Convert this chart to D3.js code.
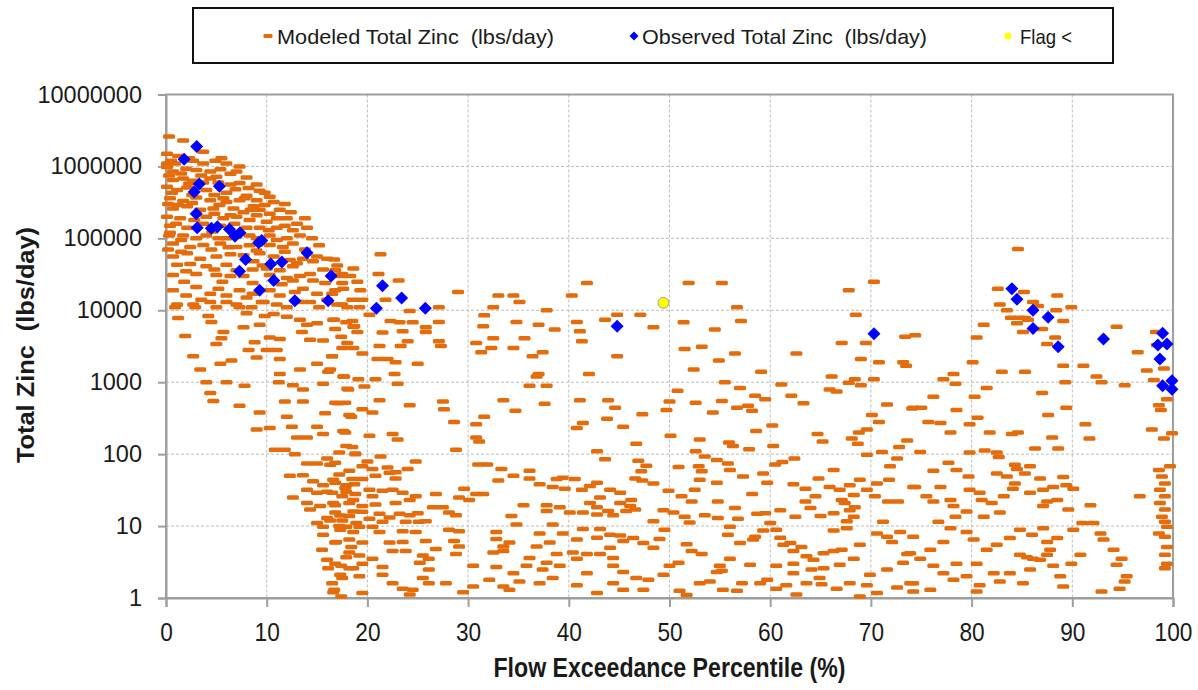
<!DOCTYPE html>
<html><head><meta charset="utf-8">
<script src="https://cdn.jsdelivr.net/npm/d3@7/dist/d3.min.js"></script>
<style>
html,body{margin:0;padding:0;background:#fff;}
svg{display:block;}
</style></head>
<body>
<svg id="chart" width="1198" height="690"></svg>
<script>
// ---------- DATA ----------
const xTicks = [0,10,20,30,40,50,60,70,80,90,100];
const yTicks = [1,10,100,1000,10000,100000,1000000,10000000];
const legendLabels = ["Modeled Total Zinc  (lbs/day)","Observed Total Zinc  (lbs/day)","Flag <"];
const xTitle = "Flow Exceedance Percentile (%)";
const yTitle = "Total Zinc  (lbs/day)";

// Modeled Total Zinc (lbs/day): [flow exceedance %, load]
const modeledHigh = [
[0.3,2.6e6],[1.7,2.3e6],[3.7,1.6e6],[0.1,1.5e6],[0.1,1.1e6],[0.9,1.1e6],[2.7,1.2e6],[3.7,1.1e6],[4.9,1.2e6],[6.0,1.1e6],
[0.1,9.8e5],[0.7,8.5e5],[2.0,9.3e5],[3.0,8.9e5],[4.4,8.5e5],[5.4,9.1e5],[6.4,7.9e5],[7.0,8.5e5],[0.7,6.5e5],[1.7,6.8e5],
[2.7,6.3e5],[4.4,6.8e5],[6.4,5.6e5],[7.3,5.9e5],[9.0,5.6e5],[0.1,5.2e5],[1.1,4.7e5],[2.1,5.1e5],[4.0,4.7e5],[6.0,4.3e5],
[6.9,4.8e5],[8.0,3.9e5],[9.3,4.6e5],[0.4,3.6e5],[1.7,3.3e5],[3.0,3.7e5],[4.4,3.4e5],[6.0,3.2e5],[7.3,3.4e5],[8.7,2.8e5],
[10.7,3.2e5],[0.7,2.6e5],[2.1,2.8e5],[3.4,2.5e5],[4.7,2.6e5],[6.7,2.6e5],[7.7,2.3e5],[9.3,2.5e5],[10.3,2.2e5],[11.3,2.5e5],
[0.1,2.0e5],[1.4,1.9e5],[4.0,2.0e5],[5.7,1.9e5],[7.0,2.0e5],[8.3,1.8e5],[10.0,1.7e5],[12.0,1.9e5],[13.0,1.6e5],[0.4,1.5e5],
[2.1,1.4e5],[3.7,1.6e5],[5.4,1.5e5],[8.0,1.4e5],[9.3,1.4e5],[11.0,1.4e5],[12.6,1.3e5],[0.4,1.2e5],[1.7,1.1e5],[4.0,1.1e5],
[6.0,1.0e5],[8.3,1.1e5],[10.3,1.1e5],[12.0,1.0e5],[13.3,1.1e5],[0.7,8.5e4],[2.4,7.6e4],[3.7,8.1e4],[5.4,8.5e4],[7.0,7.6e4],
[10.3,8.1e4],[11.6,7.6e4],[12.6,8.5e4],[0.7,5.6e4],[2.1,6.2e4],[3.4,5.2e4],[5.0,5.6e4],[6.4,6.0e4],[9.3,6.2e4],[10.7,5.6e4],
[12.3,5.0e4],[13.6,5.2e4],[15.0,5.6e4],[1.1,4.3e4],[2.4,4.4e4],[4.0,4.1e4],[6.0,4.3e4],[7.0,3.6e4],[10.0,3.8e4],[11.3,3.6e4],
[12.6,4.1e4],[14.3,3.2e4],[15.6,3.7e4],[0.7,3.1e4],[3.0,3.2e4],[5.0,3.1e4],[6.4,3.0e4],[7.7,3.0e4],[10.3,3.1e4],[12.0,2.8e4],
[13.3,3.0e4],[14.6,2.6e4],[16.6,3.1e4],[17.3,3.0e4],[18.3,3.0e4],[0.7,1.9e4],[3.0,2.1e4],[4.4,1.7e4],[6.0,1.6e4],[7.3,1.9e4],
[10.3,1.9e4],[13.6,2.0e4],[15.0,1.7e4],[17.6,2.0e4],[1.1,1.2e4],[2.7,1.2e4],[4.4,1.3e4],[6.0,1.3e4],[8.0,1.5e4],[9.7,1.3e4],
[12.0,1.1e4],[14.3,1.3e4],[16.0,1.4e4],[18.0,1.1e4]
];
const modeledBlob = [
[1.2,1.4e6],[2.3,1.3e6],[5.5,1.3e6],[0.5,1.2e6],[7.3,1.0e6],[1.5,8.0e5],[3.5,7.5e5],[5.0,7.2e5],[8.0,7.0e5],[0.3,7.5e5],
[2.3,5.8e5],[3.7,6.0e5],[5.2,6.0e5],[8.2,5.0e5],[9.8,4.3e5],[0.6,4.3e5],[2.6,4.0e5],[4.8,4.0e5],[5.7,3.6e5],[7.8,3.6e5],
[9.0,3.4e5],[10.3,3.8e5],[11.8,3.0e5],[1.2,2.9e5],[2.6,3.1e5],[5.3,2.9e5],[8.4,2.5e5],[9.8,2.9e5],[12.4,2.3e5],[13.8,1.9e5],
[2.8,1.8e5],[4.8,2.2e5],[6.4,2.1e5],[9.0,2.1e5],[11.0,1.9e5],[1.0,1.6e5],[4.6,1.25e5],[6.8,1.6e5],[10.2,1.3e5],[11.8,1.5e5],
[14.0,1.4e5],[3.0,1.0e5],[5.2,1.0e5],[7.2,1.2e5],[9.0,1.0e5],[11.0,9.5e4],[14.5,1.0e5],[1.5,9.5e4],[4.5,7.0e4],[6.2,7.5e4],
[8.3,8.0e4],[9.0,6.8e4],[11.8,6.5e4],[13.8,7.0e4],[15.2,8.0e4],[1.5,6.5e4],[7.7,5.8e4],[8.7,4.8e4],[13.0,4.5e4],[14.6,4.8e4],
[16.0,5.2e4],[17.0,4.2e4],[2.0,3.5e4],[4.8,3.7e4],[8.6,3.7e4],[9.6,4.2e4],[16.8,3.6e4],[18.6,3.8e4],[1.8,2.5e4],[5.6,2.5e4],
[8.6,2.4e4],[11.5,2.3e4],[12.6,2.6e4],[15.8,2.4e4],[19.0,2.5e4],[2.0,1.6e4],[5.2,2.0e4],[8.6,1.7e4],[11.3,1.6e4],[12.8,1.8e4],
[16.5,1.7e4],[19.3,1.9e4],[3.5,1.4e4],[7.0,1.2e4],[11.0,1.2e4],[13.2,1.3e4],[15.2,1.1e4],[17.0,1.2e4],[0.2,3.0e5],[0.2,7.0e4],
[0.3,1.1e5]
];
const modeledLow = [
[0.9,1.1e4],[2.9,1.1e4],[5.0,1.1e4],[7.3,1.1e4],[8.5,1.1e4],[9.5,1.3e4],
[1.2,7800],[4.2,8300],[4.5,6900],[7.7,5800],[8.0,9100],[9.3,6300],[9.8,8300],[10.7,8900],[12.0,8100],[13.3,7400],[14.0,6300],[15.0,6600],[16.6,7400],[17.9,6800],[18.6,5900],[19.0,5000],
[1.9,4400],[5.7,5000],[5.5,4100],[5.0,3400],[8.8,3600],[10.3,4200],[11.3,4000],[13.5,5000],[14.3,3900],[15.6,3800],[17.4,4300],
[2.7,2300],[5.4,1800],[6.5,2000],[8.2,2800],[10.0,2800],[11.0,2800],[9.0,2200],[11.3,2100],[13.3,1500],[15.0,1800],[16.1,1400],[17.6,1200],[16.5,2300],[18.6,3000],
[3.4,1500],[4.0,1000],[6.0,1000],[7.8,890],[11.3,1300],[11.2,1000],[12.6,910],[13.6,790],[15.6,950],[18.1,790],[19.1,1100],
[4.4,710],[4.7,550],[7.3,470],[9.3,380],[9.0,220],[10.3,230],[11.8,540],[13.6,540],[12.0,330],[12.5,240],[15.0,240],[15.6,190],[13.0,170],[14.0,170],[15.8,370],[17.8,200],[18.4,330],[17.1,510],
[10.8,115],[11.8,115],[12.8,100],[14.0,74],[15.0,74],[16.3,71],[17.9,130],[18.8,100],[16.0,87],
[12.3,50],[13.6,51],[14.6,42],[15.6,37],[16.6,44],[17.9,37],[14.0,32],[15.0,29],[16.0,30],[17.9,30],[12.6,25],[14.0,21],[15.3,19],[16.6,21],[18.6,23],
[14.3,17],[16.0,13],[17.3,14],[18.6,16],[15.0,11],[16.3,12],[17.9,9.8],[18.9,11],[15.6,9.8],[17.3,8.9],[18.6,8.3],
[15.6,7.6],[16.9,6.0],[15.5,4.7],[18.4,5.1],[16.0,3.4],[17.9,3.7],[16.1,2.6],[17.4,2.8],[16.5,1.6],[17.3,2.1],[16.6,1.2],[17.4,1.05],[18.6,2.6]
];
const modeledMid = [
[21.3,6.0e4],[16.7,5.1e4],[17.5,3.2e4],[21.1,3.2e4],[23.1,2.6e4],[29.0,1.8e4],[33.0,1.6e4],[34.5,1.6e4],[35.1,1.3e4],[32.5,1.1e4],
[40.3,1.6e4],[41.8,2.4e4],[19.5,1.4e4],[18.5,1.4e4],[16.8,1.9e4],[17.5,2.4e4],[21.8,1.4e4],[19.2,1.1e4],[17.5,1.2e4],[27.1,1.1e4],
[24.2,9800],[37.8,1.0e4],[44.8,8700],[16.7,7400],[18.5,7100],[18.7,6000],[16.8,5500],[20.2,8700],[22.3,7100],[23.2,6800],
[24.5,6800],[25.8,5800],[25.8,5000],[27.1,6900],[21.5,4900],[23.5,5100],[24.0,3700],[23.3,3200],[21.2,3200],[27.1,3700],
[27.3,3200],[19.5,2500],[17.5,3000],[18.0,3500],[16.5,2300],[21.0,2100],[22.0,2100],[22.8,1900],[25.0,1800],[22.7,1300],
[23.0,950],[31.6,8500],[31.5,6000],[34.8,6900],[37.0,6300],[38.6,5400],[32.5,4100],[35.6,4100],[30.8,3500],[31.3,2600],
[32.3,3000],[34.5,3000],[36.4,2300],[37.4,2600],[37.0,1300],[36.8,1200],[40.8,6900],[41.1,5100],[41.3,3700],[43.6,7400],
[44.8,2300],[42.0,1300],[17.7,1200],[20.8,1100],[16.3,1500],[19.7,870],[18.0,810],[16.8,520],[17.8,520],[19.5,420],
[20.5,380],[21.2,560],[24.2,480],[27.5,540],[27.6,420],[28.6,280],[18.2,350],[20.2,180],[22.5,190],[23.0,160],
[17.6,210],[28.8,115],[30.8,260],[31.6,330],[30.8,170],[31.1,150],[33.5,560],[34.7,400],[36.1,890],[37.8,890],
[37.6,500],[40.8,230],[41.4,270],[41.1,560],[43.9,560],[44.6,440],[43.8,310],[45.4,240],[42.8,110],[43.6,85],
[17.2,105],[18.5,126],[18.8,102],[21.3,93],[20.0,79],[16.8,76],[18.2,59],[19.5,68],[20.5,62],[22.0,65],
[22.8,56],[24.0,62],[24.8,79],[17.2,52],[18.5,45],[18.7,38],[17.8,34],[16.8,40],[19.5,45],[20.8,50],
[22.2,55],[22.8,46],[16.5,29],[17.5,26],[18.8,28],[20.2,32],[21.5,31],[22.5,32],[23.5,29],[24.8,26],
[26.8,28],[16.8,19.5],[18.2,21],[19.5,19],[20.8,20],[22.8,21],[24.2,23],[20.5,26],[16.8,15.5],[18.2,13.8],
[19.5,15.8],[21.2,14.8],[22.2,13.2],[23.2,14.8],[24.2,14.1],[25.0,15.1],[26.5,18.2],[27.5,18.2],[28.1,15.5],[28.8,14.1],
[17.5,12],[20.2,12.6],[21.5,11.5],[23.8,11.5],[25.1,11.5],[25.8,11.7],[31.0,72],[31.9,72],[33.3,62],[34.5,50],
[36.1,59],[33.0,43],[36.1,46],[37.1,38],[38.8,45],[39.4,47],[40.6,45],[38.4,35],[39.6,33],[29.6,33],
[30.8,28],[29.1,25],[30.1,23],[31.5,28],[35.5,19.5],[37.8,19.5],[39.1,18.2],[40.1,15.5],[37.8,16.2],[41.3,32],
[42.1,36],[42.8,40],[43.1,25],[44.1,32],[45.1,29],[42.1,21],[42.8,18.2],[42.8,14.5],[43.9,16.2],[44.4,14.1],
[45.1,21],[45.7,16.2],[41.4,15.5],[34.3,13.8],
[17.2,10],[19.2,9.8],[20.5,9.8],[21.2,8.3],[23.5,8.5],[24.8,8.3],[28.1,8.9],[29.1,8.5],[32.8,8.3],[34.8,10.5],
[37.1,7.9],[38.4,10.5],[39.4,7.9],[41.4,9.1],[43.1,9.1],[44.1,7.6],[45.1,7.4],[16.8,5.9],[18.2,6.5],[19.5,5.9],
[22.2,5.9],[23.5,6.0],[25.8,6.2],[28.6,6.2],[29.1,5.2],[32.8,6.6],[33.5,5.2],[34.1,5.9],[36.8,5.2],[38.1,5.9],
[40.8,6.5],[42.8,6.9],[44.1,5.0],[45.4,6.2],[18.2,4.3],[19.2,3.9],[20.5,3.5],[22.5,4.5],[23.8,4.5],[25.5,3.9],
[26.1,3.5],[26.8,4.8],[28.8,4.1],[32.5,4.3],[33.5,4.5],[36.1,3.6],[37.8,3.1],[38.8,4.1],[40.4,4.3],[41.8,4.1],
[43.1,4.1],[44.4,3.6],[16.8,3.0],[18.2,2.6],[19.5,3.0],[21.5,2.7],[25.2,3.1],[26.1,2.5],[30.5,2.8],[32.8,2.7],
[34.5,2.2],[35.8,2.8],[37.4,2.5],[39.1,2.8],[40.8,3.5],[44.4,2.8],[45.4,2.3],[17.5,1.9],[19.2,2.0],[21.5,2.1],
[22.5,1.6],[23.5,1.35],[24.5,1.3],[25.5,1.9],[26.1,1.6],[27.8,1.6],[29.5,1.2],[30.5,1.45],[32.1,1.8],[33.5,1.45],
[34.1,1.3],[35.1,1.7],[37.1,1.6],[38.4,1.9],[40.8,1.5],[41.8,2.2],[42.8,1.17],[44.4,1.6],[45.4,1.3],[16.7,1.3],
[19.5,1.17],[24.2,1.12]
];
const modeledMidRight = [
[51.9,2.4e4],[55.2,2.4e4],[67.8,1.9e4],[70.3,2.5e4],[56.7,1.1e4],[47.1,8700],[48.4,5800],[51.4,6800],[54.5,5400],[57.1,7100],
[68.5,8700],[67.1,3500],[69.5,3500],[73.4,4300],[74.4,4500],[51.5,2900],[53.2,3100],[54.9,2000],[56.5,2500],[62.6,2500],
[52.4,1500],[59.1,1400],[69.0,2100],[70.8,1900],[73.2,1900],[73.5,1700],[66.1,1200],[65.9,790],[66.6,740],[67.8,980],
[68.4,1100],[69.0,910],[70.3,1100],[55.5,1000],[61.1,930],[50.8,760],[57.0,830],[58.5,650],[59.5,580],[62.1,650],
[63.3,510],[50.0,540],[49.7,410],[52.6,520],[55.2,550],[56.7,440],[57.8,470],[58.2,400],[54.3,380],[47.3,360],
[50.1,180],[53.0,160],[55.9,145],[56.3,130],[57.9,117],[58.6,210],[60.2,250],[60.3,130],[46.7,140],[64.7,190],
[65.2,150],[68.1,165],[68.8,200],[69.6,220],[68.7,140],[70.1,350],[70.8,280],[71.6,490],[74.1,430],[72.8,126],
[73.6,155],[71.1,107],[69.6,98],[46.9,81],[47.7,69],[47.2,58],[46.6,46],[47.3,43],[48.4,39],[50.9,66],
[52.6,110],[53.5,93],[52.9,68],[53.2,58],[54.7,83],[55.8,74],[56.0,60],[57.3,49],[54.7,40],[53.0,44],
[52.5,32],[59.3,54],[59.7,40],[60.5,72],[61.2,78],[62.4,87],[66.3,60],[64.8,46],[62.3,38],[63.5,33],
[65.9,35],[66.9,32],[67.9,37],[68.3,27],[68.9,44],[69.6,32],[70.6,39],[71.8,44],[71.9,68],[72.6,87],
[74.2,35],[49.9,31],[51.2,26],[52.2,22],[54.8,22],[58.2,28],[46.2,23],[46.1,19],[46.6,17],[48.4,11.7],
[49.4,16.6],[50.4,15.5],[51.5,13.5],[52.0,11.2],[53.5,14.1],[54.8,12.9],[56.5,17.8],[56.8,12.6],[58.7,14.8],[59.5,15.1],
[61.0,16.6],[62.5,13.5],[63.5,22],[64.0,17.8],[64.5,26],[65.0,13.8],[66.3,15.1],[67.1,23],[67.4,21],[67.9,16.6],
[68.4,18.2],[68.3,13.5],[67.6,11.7],[70.4,26],[71.2,11.5],[71.7,22],[72.7,22],
[46.4,6.8],[47.4,5.8],[48.4,5.0],[49.0,6.6],[49.5,8.9],[50.9,3.1],[51.7,5.6],[52.2,4.5],[53.2,4.1],[55.0,2.8],
[55.2,2.4],[56.0,3.5],[56.0,9.8],[55.8,7.6],[57.0,5.8],[58.0,2.9],[58.3,6.5],[58.5,7.1],[59.3,8.7],[60.0,11],
[60.6,8.9],[61.0,6.9],[61.3,5.5],[62.0,5.8],[62.3,4.5],[63.1,5.1],[63.6,3.8],[64.3,3.4],[65.3,4.2],[66.3,4.5],
[67.1,4.7],[68.9,5.5],[68.3,3.5],[67.6,9.3],[66.3,8.7],[70.6,7.9],[71.6,7.1],[72.9,8.3],[74.2,7.1],[72.1,6.0],
[73.6,4.1],[73.2,3.1],[71.6,2.5],[69.9,2.1],[46.7,1.9],[47.9,1.8],[47.4,1.3],[49.4,2.1],[50.0,2.8],[51.0,1.26],
[51.7,1.1],[53.0,1.6],[54.0,1.7],[54.7,2.3],[55.3,1.3],[56.7,1.26],[57.2,1.6],[59.0,1.6],[59.7,1.8],[60.6,1.35],
[61.6,1.5],[62.6,1.12],[63.6,1.6],[64.9,1.9],[65.1,1.55],[66.6,1.35],[67.9,1.6],[68.9,1.05],[69.6,1.5],[70.6,1.17],
[72.6,1.4],[73.9,1.6],[74.2,1.23],[60.6,2.8],[62.3,3.0],[65.3,2.6],[66.9,2.9],[64.1,2.5],[62.3,2.2]
];
const modeledRight = [
[84.6,7.1e4],[82.6,2.0e4],[85.2,1.8e4],[82.8,1.2e4],[83.5,1.0e4],[83.9,7900],[84.8,7900],[85.3,7800],[85.6,7400],[84.5,6600],
[85.1,5000],[86.1,1.3e4],[86.6,1.15e4],[88.5,1.6e4],[88.4,1.0e4],[89.9,1.1e4],[89.1,7100],[87.0,5500],[88.3,4200],[87.5,3400],
[81.2,6300],[80.5,4200],[94.4,5900],[96.5,2600],[98.3,5000],[98.4,3300],[99.1,1550],[97.4,1450],[98.1,1070],[89.1,1700],
[91.1,1700],[92.4,1200],[92.9,1000],[95.2,910],[89.3,1000],[83.0,1400],[85.3,1400],[80.1,1900],[81.5,830],[80.3,630],
[87.0,710],[87.6,350],[89.4,440],[91.3,260],[91.7,165],[88.0,170],[88.6,120],[86.3,120],[84.6,200],[84.0,190],
[81.8,200],[79.8,260],[80.6,320],[77.2,1100],[78.2,1300],[78.4,950],[76.2,630],[74.2,440],[75.0,440],[75.7,280],
[76.9,270],[77.9,200],[78.5,410],[98.6,480],[98.8,410],[97.9,220],[99.1,165],[99.9,195],[99.4,580],
[74.9,107],[79.8,105],[81.3,112],[82.5,105],[82.7,91],[77.7,76],[78.5,60],[76.2,59],[74.4,35],[76.9,35],
[79.7,49],[79.8,32],[80.8,29],[82.5,54],[83.5,49],[84.3,71],[84.5,62],[85.3,54],[85.8,68],[86.8,46],
[84.3,39],[84.1,33],[83.2,26],[85.8,29],[87.1,32],[88.1,35],[89.1,48],[89.4,37],[90.1,33],[87.5,22],
[87.1,19],[88.5,23],[89.6,17],[91.8,19.5],[96.7,26],[77.9,23],[78.2,19],[75.5,26],[76.2,22],[79.5,16],
[81.0,23],[82.0,21],[82.8,15.5],[81.2,13.5],[78.4,13.5],[76.7,11.5],[98.6,60],[98.9,49],[99.2,39],[98.7,32],
[99.2,26],[98.7,21],[99.2,17],[98.9,13.5],[99.2,11.5],[99.7,68],
[87.1,9.3],[86.0,7.6],[87.5,6.0],[88.5,6.8],[90.1,8.9],[91.0,11],[92.1,11],[92.8,7.9],[93.1,6.5],[94.1,4.7],
[94.9,3.5],[94.4,2.9],[95.4,2.0],[95.2,1.7],[94.7,1.35],[92.9,1.23],[90.8,4.0],[89.9,3.0],[88.1,2.8],[88.8,2.0],
[89.1,1.45],[87.8,4.7],[86.8,3.4],[87.5,4.0],[85.8,2.5],[85.1,1.6],[83.8,2.2],[82.8,1.7],[82.2,2.2],[80.8,1.5],
[80.5,3.0],[81.5,4.7],[82.5,5.5],[83.8,6.8],[84.8,4.0],[85.5,3.7],[86.1,3.5],[84.8,8.9],[80.2,6.5],[79.5,8.3],
[77.9,9.3],[77.2,6.0],[75.9,4.7],[74.9,3.5],[73.9,4.2],[76.2,2.8],[78.5,3.0],[79.5,2.0],[78.2,1.8],[75.9,1.3],
[74.2,1.6],[77.2,2.2],[80.5,1.23],[99.4,9.8],[99.2,7.1],[99.4,5.1],[99.2,4.0],[99.4,3.0],[99.2,2.6],[98.6,7.9]
];

// Observed Total Zinc (lbs/day): [flow exceedance %, load]
const observed = [
[1.8,1.26e6],[3.05,1.9e6],[3.3,5.7e5],[2.8,4.4e5],[5.3,5.3e5],[3.0,2.2e5],[3.1,1.4e5],[4.5,1.38e5],[5.1,1.45e5],[6.3,1.34e5],
[6.85,1.07e5],[7.35,1.2e5],[9.2,8.7e4],[9.5,9.3e4],[14.0,6.3e4],[7.9,5.1e4],[10.4,4.4e4],[11.5,4.7e4],[7.3,3.5e4],[10.7,2.6e4],
[16.4,3.0e4],[9.3,1.9e4],[12.8,1.36e4],[16.1,1.36e4],[21.5,2.2e4],[23.4,1.48e4],[20.9,1.07e4],[25.75,1.07e4],[44.8,6000],[70.3,4700],
[84.0,2.0e4],[84.5,1.42e4],[86.1,1.0e4],[87.6,8000],[86.1,5600],[88.6,3100],[93.1,4000],[98.97,4800],[98.5,3300],[99.4,3400],
[98.7,2100],[98.97,890],[99.9,1050],[99.9,800]
];
// Flag <
const flagged = [[49.4,1.27e4]];

// ---------- CHART ----------
const svg = d3.select("#chart");
const L = 166, R = 1173, T = 94.5, B = 598;
const x = d3.scaleLinear().domain([0,100]).range([L,R]);
const y = d3.scaleLog().domain([1,1e7]).range([B,T]);

const ORANGE = "#E46C0A", BLUE = "#0000FF", YELLOW = "#FFFF00";
const GRID = "#BDBDBD", AXIS = "#9E9E9E";

// gridlines
const g = svg.append("g");
g.selectAll("line.gy").data(yTicks.filter(d => d > 1 && d < 1e7)).join("line")
  .attr("x1", L).attr("x2", R).attr("y1", d => y(d)).attr("y2", d => y(d))
  .attr("stroke", GRID).attr("stroke-width", 1).attr("stroke-dasharray", "3,2");
g.selectAll("line.gx").data(xTicks.filter(d => d > 0 && d < 100)).join("line")
  .attr("y1", T).attr("y2", B).attr("x1", d => x(d)).attr("x2", d => x(d))
  .attr("stroke", GRID).attr("stroke-width", 1).attr("stroke-dasharray", "3,2");

// plot frame
svg.append("rect").attr("x", L).attr("y", T).attr("width", R - L).attr("height", B - T)
  .attr("fill", "none").attr("stroke", AXIS).attr("stroke-width", 2);

// axes
const yAxis = svg.append("g").attr("transform", `translate(${L},0)`)
  .call(d3.axisLeft(y).tickValues(yTicks).tickFormat(d3.format("d")).tickSize(8).tickPadding(16));
yAxis.select(".domain").attr("stroke", AXIS).attr("stroke-width", 2);
yAxis.selectAll(".tick line").attr("stroke", AXIS).attr("stroke-width", 2);
yAxis.selectAll(".tick text").attr("fill", "#1a1a1a")
  .style("font-family", "'Liberation Sans', Arial, sans-serif").style("font-size", "23.5px");

const xAxis = svg.append("g").attr("transform", `translate(0,${B})`)
  .call(d3.axisBottom(x).tickValues(xTicks).tickFormat(d3.format("d")).tickSize(9));
xAxis.select(".domain").attr("stroke", AXIS).attr("stroke-width", 2);
xAxis.selectAll(".tick line").attr("stroke", AXIS).attr("stroke-width", 2);
xAxis.selectAll(".tick text").attr("fill", "#1a1a1a").attr("y", 43).attr("dy", null)
  .style("font-family", "'Liberation Sans Narrow', 'Liberation Sans', Arial, sans-serif").style("font-size", "25px")
  .attr("textLength", d => String(d).length * 12.6).attr("lengthAdjust", "spacingAndGlyphs");

// axis titles
svg.append("text").text(xTitle).attr("x", (L + R) / 2).attr("y", 677).attr("text-anchor", "middle")
  .style("font-family", "'Liberation Sans Narrow', 'Liberation Sans', Arial, sans-serif").style("font-weight", "bold")
  .style("font-size", "27px").attr("fill", "#1a1a1a")
  .attr("textLength", 352).attr("lengthAdjust", "spacingAndGlyphs");
svg.append("text").text(yTitle).attr("transform", "translate(34,345) rotate(-90)").attr("text-anchor", "middle")
  .style("font-family", "'Liberation Sans', Arial, sans-serif").style("font-weight", "bold")
  .style("font-size", "23px").style("white-space", "pre").attr("fill", "#1a1a1a")
  .attr("textLength", 236).attr("lengthAdjust", "spacingAndGlyphs");

// modeled dashes
const modeled = [].concat(modeledHigh, modeledBlob, modeledLow, modeledMid, modeledMidRight, modeledRight);
const DW = 12, DH = 4.5;
svg.append("g").selectAll("rect").data(modeled).join("rect")
  .attr("x", d => x(d[0]) - DW / 2).attr("y", d => y(d[1]) - DH / 2)
  .attr("width", DW).attr("height", DH).attr("rx", 1.5).attr("fill", ORANGE);

// observed diamonds
const diamond = r => `M0,${-r}L${r},0L0,${r}L${-r},0Z`;
svg.append("g").selectAll("path").data(observed).join("path")
  .attr("transform", d => `translate(${x(d[0])},${y(d[1])})`)
  .attr("d", diamond(6.5)).attr("fill", BLUE);

// flagged
svg.append("g").selectAll("circle").data(flagged).join("circle")
  .attr("cx", d => x(d[0])).attr("cy", d => y(d[1])).attr("r", 5.5)
  .attr("fill", YELLOW).attr("stroke", "#8a8a8a").attr("stroke-width", 0.8);

// legend
const lg = svg.append("g");
lg.append("rect").attr("x", 193).attr("y", 8).attr("width", 920).attr("height", 55)
  .attr("fill", "#fff").attr("stroke", "#111").attr("stroke-width", 2);
const legFont = "'Liberation Sans Narrow', 'Liberation Sans', Arial, sans-serif";
const legItems = [
  {label: legendLabels[0], mx: 268, tx: 277, w: 277},
  {label: legendLabels[1], mx: 634, tx: 642, w: 285},
  {label: legendLabels[2], mx: 1008, tx: 1020, w: 52}
];
lg.append("rect").attr("x", legItems[0].mx - 4.5).attr("y", 34).attr("width", 9).attr("height", 4).attr("rx", 1).attr("fill", ORANGE);
lg.append("path").attr("transform", `translate(${legItems[1].mx},36)`).attr("d", diamond(4.5)).attr("fill", BLUE);
lg.append("circle").attr("cx", legItems[2].mx).attr("cy", 36).attr("r", 3.5).attr("fill", YELLOW);
lg.selectAll("text").data(legItems).join("text")
  .text(d => d.label).attr("x", d => d.tx).attr("y", 44)
  .style("font-family", legFont).style("font-size", "21px").style("white-space", "pre").attr("fill", "#1a1a1a")
  .attr("textLength", d => d.w).attr("lengthAdjust", "spacingAndGlyphs");
</script>
</body></html>
